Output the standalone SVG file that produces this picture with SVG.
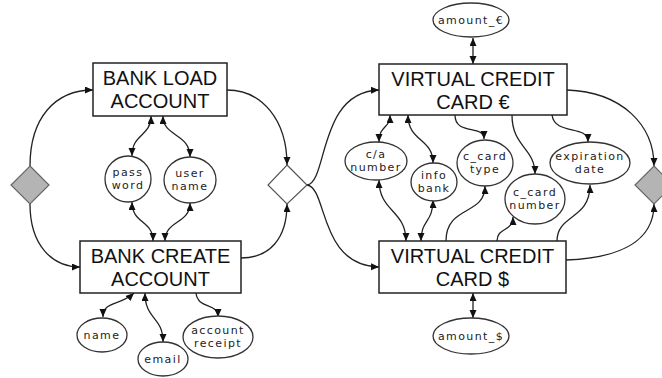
<svg xmlns="http://www.w3.org/2000/svg" width="662" height="378" viewBox="0 0 662 378">
<style>
.box{fill:#fff;stroke:#222;stroke-width:1.5}
.ell{fill:#fff;stroke:#333;stroke-width:1.3}
.gd{fill:#b4b4b4;stroke:#666;stroke-width:1.2}
.wd{fill:#fff;stroke:#555;stroke-width:1.2}
.bt{font-family:"Liberation Sans",Arial,sans-serif;font-size:20px;fill:#111;text-anchor:middle}
.et{font-family:"DejaVu Sans",sans-serif;font-size:11px;letter-spacing:1.4px;fill:#222;text-anchor:middle}
.c path{fill:none;stroke:#222;stroke-width:1.3}
.e{marker-end:url(#ah)}
.b{marker-end:url(#ah);marker-start:url(#ah)}
</style>
<defs>
<marker id="ah" markerUnits="userSpaceOnUse" markerWidth="9" markerHeight="8" refX="8" refY="3.5" orient="auto-start-reverse" viewBox="0 0 9 8">
<path d="M0,0 L8,3.5 L0,7 z" fill="#111"/>
</marker>
</defs>
<rect width="662" height="378" fill="#fff"/>
<g class="c" id="connectors">
<path class="e" d="M30,166 C30,118 55,90 93,90"/>
<path class="e" d="M30,204 C30,245 52,267 80,267"/>
<path class="e" d="M227,90 C262,90 287,120 287,165"/>
<path class="e" d="M241,258 C270,258 287,238 287,204"/>
<path class="e" d="M307,185 C328,182 318,92 379,90"/>
<path class="e" d="M307,185 C328,188 318,265 379,267"/>
<path class="e" d="M567,90 C622,92 654,125 654,166"/>
<path class="e" d="M566,260 C622,258 654,240 654,204"/>
<path class="b" d="M473,38 L473,64"/>
<path class="b" d="M473,293 L473,318"/>
<path class="b" d="M151,116 C151,137 132,133 132,156"/>
<path class="b" d="M163,116 C163,137 190,133 190,157"/>
<path class="b" d="M132,202 C132,224 153,220 153,241"/>
<path class="b" d="M190,203 C190,224 165,220 165,241"/>
<path class="b" d="M134,293 C120,306 103,301 103,317"/>
<path class="b" d="M145,293 C145,320 163,316 163,342"/>
<path class="e" d="M196,293 C198,310 218,302 218,317"/>
<path class="b" d="M390,115 C390,129 379,125 379,142"/>
<path class="b" d="M408,115 C408,142 433,138 433,163"/>
<path class="e" d="M455,115 C455,136 484,124 484,139"/>
<path class="e" d="M512,115 C512,147 535,148 535,174"/>
<path class="e" d="M552,115 C555,136 588,124 588,142"/>
<path class="b" d="M379,180 C379,212 406,210 406,241"/>
<path class="b" d="M433,200 C433,223 421,219 421,241"/>
<path class="e" d="M446,241 C446,205 485,216 485,186"/>
<path class="e" d="M497,241 C497,227 513,232 513,217"/>
<path class="e" d="M557,241 C557,214 590,220 590,185"/>
</g>
<g id="gw-left"><polygon class="gd" points="30,166 49,185 30,204 11,185"/></g>
<g id="gw-mid"><polygon class="wd" points="287,165 307,185 287,204 268,185"/></g>
<g id="gw-right"><polygon class="gd" points="654,166 673,185 654,204 635,185"/></g>
<g id="bank-load"><rect class="box" x="93" y="63" width="134" height="53"/><text class="bt" x="160" y="85">BANK LOAD</text><text class="bt" x="160" y="108">ACCOUNT</text></g>
<g id="bank-create"><rect class="box" x="80" y="241" width="161" height="52"/><text class="bt" x="160.5" y="263">BANK CREATE</text><text class="bt" x="160.5" y="286">ACCOUNT</text></g>
<g id="vcc-eur"><rect class="box" x="379" y="64" width="188" height="51"/><text class="bt" x="473" y="86">VIRTUAL CREDIT</text><text class="bt" x="473" y="109">CARD €</text></g>
<g id="vcc-usd"><rect class="box" x="379" y="241" width="187" height="52"/><text class="bt" x="472.5" y="263">VIRTUAL CREDIT</text><text class="bt" x="472.5" y="286">CARD $</text></g>
<g id="password"><ellipse class="ell" cx="128" cy="179" rx="23" ry="23"/><text class="et" x="128" y="176">pass</text><text class="et" x="128" y="189">word</text></g>
<g id="username"><ellipse class="ell" cx="190" cy="180" rx="26" ry="23"/><text class="et" x="190" y="177">user</text><text class="et" x="190" y="190">name</text></g>
<g id="name"><ellipse class="ell" cx="102" cy="335" rx="25" ry="17"/><text class="et" x="102" y="339">name</text></g>
<g id="email"><ellipse class="ell" cx="163" cy="359" rx="25" ry="17"/><text class="et" x="163" y="363">email</text></g>
<g id="receipt"><ellipse class="ell" cx="218" cy="337" rx="35" ry="21"/><text class="et" x="218" y="334">account</text><text class="et" x="218" y="347">receipt</text></g>
<g id="amount-eur"><ellipse class="ell" cx="471" cy="20" rx="38" ry="17"/><text class="et" x="471" y="24">amount_€</text></g>
<g id="amount-usd"><ellipse class="ell" cx="471" cy="336" rx="38" ry="18"/><text class="et" x="471" y="340">amount_$</text></g>
<g id="ca-number"><ellipse class="ell" cx="376" cy="161" rx="31" ry="19"/><text class="et" x="376" y="158">c/a</text><text class="et" x="376" y="171">number</text></g>
<g id="info-bank"><ellipse class="ell" cx="434" cy="182" rx="23" ry="19"/><text class="et" x="434" y="179">info</text><text class="et" x="434" y="192">bank</text></g>
<g id="ccard-type"><ellipse class="ell" cx="485" cy="163" rx="28" ry="23"/><text class="et" x="485" y="160">c_card</text><text class="et" x="485" y="173">type</text></g>
<g id="ccard-number"><ellipse class="ell" cx="535" cy="199" rx="30" ry="25"/><text class="et" x="535" y="196">c_card</text><text class="et" x="535" y="209">number</text></g>
<g id="expiration"><ellipse class="ell" cx="590" cy="163" rx="40" ry="21"/><text class="et" x="590" y="160">expiration</text><text class="et" x="590" y="173">date</text></g>
</svg>
